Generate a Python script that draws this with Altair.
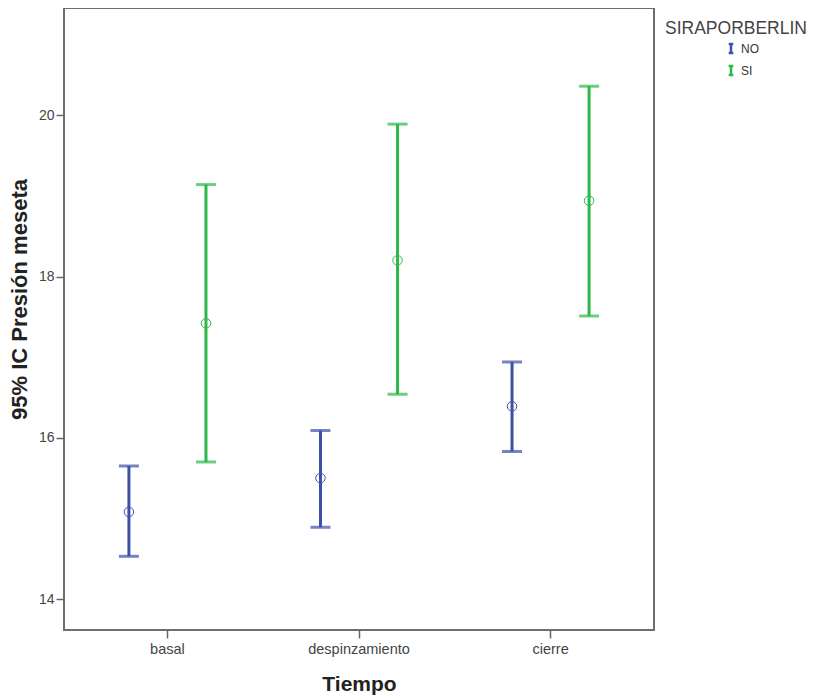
import altair as alt
import pandas as pd

tiempo = ["basal", "despinzamiento", "cierre"]
grupos = ["NO", "SI"]
media_no = [15.08, 15.50, 16.39]
inf_no = [14.53, 14.89, 15.83]
sup_no = [15.65, 16.09, 16.94]
media_si = [17.42, 18.20, 18.94]
inf_si = [15.70, 16.54, 17.51]
sup_si = [19.14, 19.89, 20.36]
y_ticks = [14, 16, 18, 20]
colores = ["#3E4FAA", "#2EB848"]

rows = []
for i, t in enumerate(tiempo):
    rows.append({"Tiempo": t, "SIRAPORBERLIN": "NO", "media": media_no[i], "inf": inf_no[i], "sup": sup_no[i]})
    rows.append({"Tiempo": t, "SIRAPORBERLIN": "SI", "media": media_si[i], "inf": inf_si[i], "sup": sup_si[i]})
df = pd.DataFrame(rows)

FONT = "Liberation Sans"
x_enc = alt.X("Tiempo:N", sort=tiempo,
              scale=alt.Scale(paddingInner=0, paddingOuter=0.04),
              axis=alt.Axis(title="Tiempo", labelAngle=0, labelFontSize=14.5, labelColor="#444444",
                            titleFontSize=21, titleFontWeight="bold", titleColor="#222222",
                            titleY=54, titleBaseline="middle",
                            tickSize=8, tickColor="#666666", tickWidth=1.5,
                            domain=False, labelPadding=4, labelFont=FONT, titleFont=FONT))
xo = alt.XOffset("SIRAPORBERLIN:N", sort=grupos,
                 scale=alt.Scale(type="point", padding=0.743))
col_scale = alt.Scale(domain=grupos, range=colores)
col = alt.Color("SIRAPORBERLIN:N", sort=grupos, scale=col_scale,
                legend=alt.Legend(title="SIRAPORBERLIN", orient="none", legendX=601, legendY=12,
                                  titleFontSize=17.5, titleFontWeight="normal", titleColor="#444444",
                                  titleFont=FONT, labelFont=FONT, labelFontSize=12, labelColor="#333333",
                                  symbolType="M-0.5,-1H0.5M0,-1V1M-0.5,1H0.5", symbolSize=85,
                                  symbolStrokeWidth=2.5, symbolOffset=60, rowPadding=2,
                                  labelOffset=4, titlePadding=5))
col_nl = alt.Color("SIRAPORBERLIN:N", sort=grupos, scale=col_scale, legend=None)
y_scale = alt.Scale(domain=[13.616, 21.33], nice=False, zero=False)
y_axis = alt.Axis(title="95% IC Presión meseta", values=y_ticks, format="d",
                  labelFontSize=14, labelColor="#444444",
                  titleFontSize=22, titleFontWeight="bold", titleColor="#222222",
                  titleX=-45, titleY=291, titleBaseline="middle", titleAlign="center",
                  tickSize=8, tickColor="#666666", tickWidth=1.5, domain=False, grid=False,
                  labelPadding=2, labelFont=FONT, titleFont=FONT)

base = alt.Chart(df).encode(x=x_enc, xOffset=xo)

rule = base.mark_rule(strokeWidth=3).encode(
    y=alt.Y("inf:Q", scale=y_scale, axis=y_axis), y2="sup:Q", color=col)
cap_lo = base.mark_tick(size=20, thickness=3, orient="horizontal").encode(
    y=alt.Y("inf:Q", scale=y_scale), color=col_nl)
cap_hi = base.mark_tick(size=20, thickness=3, orient="horizontal").encode(
    y=alt.Y("sup:Q", scale=y_scale), color=col_nl)
pts = base.mark_point(size=90, filled=False, strokeWidth=1, opacity=1).encode(
    y=alt.Y("media:Q", scale=y_scale), color=col_nl)

chart = alt.layer(rule, cap_lo, cap_hi, pts).properties(
    width=590, height=622,
    background="white",
    autosize=alt.AutoSizeParams(type="none"),
    padding={"left": 56, "top": 0, "right": 155, "bottom": 66},
).configure_view(stroke="#6e6e6e", strokeWidth=2)

chart.save("out.html", embed_options={"renderer": "svg", "actions": False})
